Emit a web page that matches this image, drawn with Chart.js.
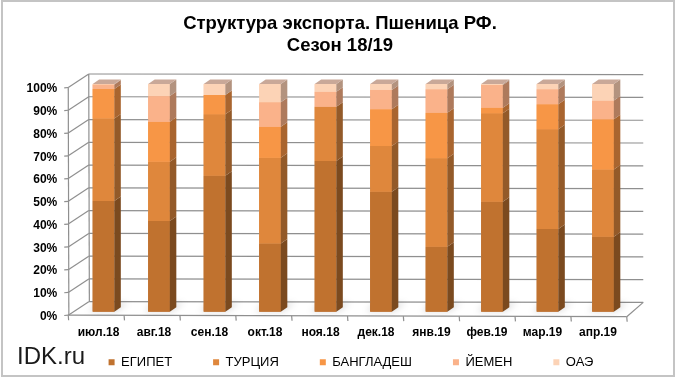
<!DOCTYPE html>
<html>
<head>
<meta charset="utf-8">
<script src="https://cdn.jsdelivr.net/npm/chart.js@4.4.1/dist/chart.umd.min.js"></script>
<style>
  html, body { margin: 0; padding: 0; background: #fff; }
  #wrap { position: relative; width: 680px; height: 384px; background: #fff; }
  #brand { position: absolute; left: 17px; top: 344px; font: 24px/24px "Liberation Sans", Arial, sans-serif; color: #1a1a1a; }
</style>
</head>
<body>
<div id="wrap">
  <canvas id="myChart" width="680" height="384"></canvas>
  <div id="brand">IDK.ru</div>
</div>
<script>
var months = ['июл.18', 'авг.18', 'сен.18', 'окт.18', 'ноя.18', 'дек.18', 'янв.19', 'фев.19', 'мар.19', 'апр.19'];
var egypt      = [48.6, 39.8, 59.7, 30.0, 66.2, 52.7, 28.5, 48.3, 36.3, 32.9];
var turkey     = [36.3, 26.1, 27.0, 37.6, 23.8, 20.1, 38.9, 38.8, 43.8, 29.6];
var bangladesh = [12.9, 17.5,  8.5, 13.6,  0.0, 16.1, 20.0,  2.5, 11.0, 22.0];
var yemen      = [ 2.0, 11.3,  0.0, 10.8,  6.6,  8.5, 10.3, 10.0,  6.6,  8.2];
var uae        = [ 0.2,  5.3,  4.8,  8.0,  3.4,  2.6,  2.3,  0.4,  2.3,  7.3];
var gridSteps = [0, 10, 20, 30, 40, 50, 60, 70, 80, 90, 100];

var fontFamily = '"Liberation Sans", Arial, sans-serif';
var faceColors = ['#c0722f', '#df873c', '#f79646', '#fab28a', '#fcd3b6'];
var sideColors = ['#7b4a1f', '#935a29', '#a9652f', '#ae7a5c', '#b3937f'];
var topColors  = ['#9c6a45', '#b0805c', '#c08a64', '#c09a86', '#c9a898'];

// depth of the 3D bars
var dx = 6.5, dy = -4.5;

function line(c, x1, y1, x2, y2) {
  c.beginPath();
  c.moveTo(x1, y1);
  c.lineTo(x2, y2);
  c.stroke();
}

function drawWalls(chart) {
  var c = chart.ctx, a = chart.chartArea, ys = chart.scales.y;
  var fl = a.left - 7.5, fr = a.right - 4;   // front plane
  var bl = a.left + 13, br = a.right + 12.5; // back wall
  c.save();
  c.strokeStyle = '#c4c4c4';
  c.lineWidth = 2;
  c.strokeRect(2, 1, 672, 375);

  // slight perspective tilt keeps the lines soft like the original
  c.strokeStyle = '#8f8f8f';
  c.lineWidth = 1.2;
  for (var k = 0; k < gridSteps.length; k++) {
    var yv = ys.getPixelForValue(gridSteps[k]);
    var yb = yv - 10, yf = yv + 3.5;
    line(c, bl, yb, br, yb + 0.7);
    line(c, fl, yf, bl, yb);
    line(c, fl - 4, yf + 0.3, fl, yf);
  }
  var y0 = ys.getPixelForValue(0), y100 = ys.getPixelForValue(100);
  line(c, bl, y100 - 10, bl + 0.6, y0 - 10);
  line(c, fl, y100 + 3.5, fl + 0.6, y0 + 3.5);
  line(c, fl, y0 + 3.5, fr, y0 + 5);
  line(c, fr, y0 + 5, br, y0 - 9.3);
  for (var i = 0; i <= months.length; i++) {
    var x = fl + i * (fr - fl) / months.length;
    var y = y0 + 3.5 + 1.5 * i / months.length;
    line(c, x, y, x + 0.4, y + 5);
  }

  // soft shadows on the floor
  c.filter = 'blur(3px)';
  c.fillStyle = 'rgba(0,0,0,0.13)';
  chart.getDatasetMeta(0).data.forEach(function(bar) {
    var p = bar.getProps(['x', 'base', 'width'], true);
    c.beginPath();
    c.moveTo(p.x - p.width / 2 - 4, p.base);
    c.lineTo(p.x + p.width / 2 + 2, p.base);
    c.lineTo(p.x + p.width / 2 + dx + 8, p.base - 9);
    c.lineTo(p.x - p.width / 2 + 4, p.base - 9);
    c.closePath();
    c.fill();
  });
  c.restore();
}

function drawBars3d(chart) {
  var c = chart.ctx;
  c.save();
  var n = chart.data.datasets.length;
  var tops = [];
  for (var i = 0; i < n; i++) {
    var meta = chart.getDatasetMeta(i);
    meta.data.forEach(function(bar, j) {
      var p = bar.getProps(['x', 'y', 'base', 'width'], true);
      if (Math.abs(p.base - p.y) < 0.05) return;
      bar.draw(c);
      var r = p.x + p.width / 2;
      c.fillStyle = sideColors[i];
      c.beginPath();
      c.moveTo(r, p.y);
      c.lineTo(r + dx, p.y + dy);
      c.lineTo(r + dx, p.base + dy);
      c.lineTo(r, p.base);
      c.closePath();
      c.fill();
      tops[j] = {p: p, i: i};
    });
  }
  tops.forEach(function(t) {
    var p = t.p, l = p.x - p.width / 2, r = p.x + p.width / 2;
    c.fillStyle = topColors[t.i];
    c.beginPath();
    c.moveTo(l, p.y);
    c.lineTo(l + dx, p.y + dy);
    c.lineTo(r + dx, p.y + dy);
    c.lineTo(r, p.y);
    c.closePath();
    c.fill();
  });
  c.restore();
}

var threeD = {
  id: 'threeD',
  afterLayout: function(chart) {
    // put the legend where the original has it
    var lg = chart.legend, lo = lg.options.labels;
    var sx = 351 - (lg.left + lg.right) / 2;
    var sy = 362.3 - (lg.top + lo.padding + 6.5);
    lg.left += sx; lg.right += sx;
    lg.top += sy; lg.bottom = chart.height;
  },
  afterDraw: function(chart) {
    drawWalls(chart);
    drawBars3d(chart);
  }
};

var names = ['ЕГИПЕТ', 'ТУРЦИЯ', 'БАНГЛАДЕШ', 'ЙЕМЕН', 'ОАЭ'];
var series = [egypt, turkey, bangladesh, yemen, uae];
var datasets = series.map(function(d, i) {
  return {
    label: names[i],
    data: d,
    backgroundColor: faceColors[i],
    borderWidth: 0,
    barPercentage: 0.39,
    categoryPercentage: 1.0
  };
});

var canvas = document.getElementById('myChart');

var chart = new Chart(canvas, {
  type: 'bar',
  data: { labels: months, datasets: datasets },
  plugins: [threeD],
  options: {
    responsive: false,
    animation: false,
    layout: { padding: { left: 0, right: 0, top: 0, bottom: 8.3 } },
    plugins: {
      title: {
        display: true,
        text: ['Структура экспорта. Пшеница РФ.', 'Сезон 18/19'],
        color: '#000',
        font: { family: fontFamily, size: 18.5, weight: 'bold', lineHeight: 22 / 18.5 },
        padding: { top: 12.5, bottom: 27.5 }
      },
      legend: {
        position: 'bottom',
        maxHeight: 24,
        labels: {
          boxWidth: 6,
          boxHeight: 6,
          padding: 41,
          color: '#000',
          font: { family: fontFamily, size: 13 }
        }
      },
      tooltip: { enabled: false }
    },
    scales: {
      x: {
        stacked: true,
        grid: { display: false, drawTicks: false },
        border: { display: false },
        ticks: {
          color: '#000',
          font: { family: fontFamily, size: 12, weight: 'bold' },
          padding: 13.4,
          labelOffset: -5,
          maxRotation: 0,
          autoSkip: false
        },
        afterFit: function(s) { s.height = 40; }
      },
      y: {
        stacked: true,
        min: 0,
        max: 100,
        grid: { display: false, drawTicks: false },
        border: { display: false },
        ticks: {
          stepSize: 10,
          autoSkip: false,
          color: '#000',
          font: { family: fontFamily, size: 12, weight: 'bold' },
          padding: 18.5,
          labelOffset: 5,
          callback: function(v) { return v + '%'; }
        },
        afterFit: function(s) { s.width = 75.75; }
      },
      yRight: {
        type: 'linear',
        position: 'right',
        grid: { display: false, drawTicks: false },
        border: { display: false },
        ticks: { display: false },
        afterFit: function(s) { s.width = 49.25; }
      }
    }
  }
});
</script>
</body>
</html>
